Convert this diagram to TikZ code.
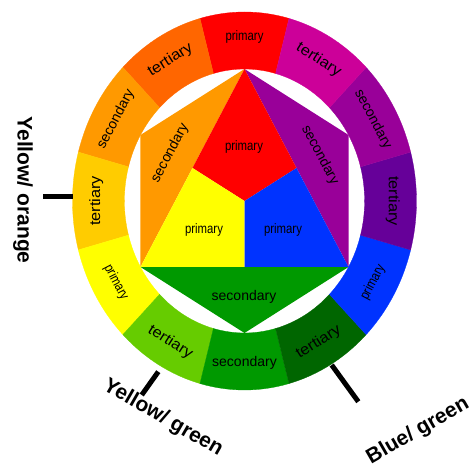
\documentclass[tikz,border=0pt]{standalone}
\usepackage{fontspec}
\usepackage{graphicx}
\setmainfont{Liberation Sans}
\definecolor{pRed}{HTML}{FF0000}
\definecolor{tRO}{HTML}{FF6600}
\definecolor{sOr}{HTML}{FF9900}
\definecolor{tYO}{HTML}{FFCC00}
\definecolor{pYe}{HTML}{FFFF00}
\definecolor{tYG}{HTML}{66CC00}
\definecolor{sGr}{HTML}{009900}
\definecolor{tBG}{HTML}{006600}
\definecolor{pBl}{HTML}{0033FF}
\definecolor{tBV}{HTML}{660099}
\definecolor{sVi}{HTML}{990099}
\definecolor{tRV}{HTML}{CC0099}
\newcommand\txtP{\scalebox{0.83}[1]{primary}}
\newcommand\txtS{\scalebox{1.0}[1]{secondary}}
\newcommand\txtT{\scalebox{1.09}[1]{tertiary}}
\newcommand\ringseg[3]{\fill[#3,draw=#3,line width=0.3pt] (#1:189) arc[start angle=#1, end angle=#2, radius=189] -- (#2:132) arc[start angle=#2, end angle=#1, radius=132] -- cycle;}
\begin{document}
\begin{tikzpicture}[x=1pt,y=1pt,
  lab/.style={inner sep=0pt, text=black},
  lp/.style={lab, font=\fontsize{13.7}{13.7}\selectfont},
  ls/.style={lab, font=\fontsize{14}{14}\selectfont},
  lt/.style={lab, font=\fontsize{15}{15}\selectfont},
  big/.style={inner sep=0pt, font=\fontsize{21}{21}\selectfont\bfseries},
  tickline/.style={line width=5pt}]
\useasboundingbox (0,0) rectangle (475,469);
\begin{scope}[shift={(244.5,268)}, xscale=0.91]
  % inner figure
  \fill[sOr] (90:132) -- (150:132) -- (210:132) -- cycle;
  \fill[sVi] (90:132) -- (30:132) -- (330:132) -- cycle;
  \fill[sGr] (210:132) -- (330:132) -- (270:132) -- cycle;
  \fill[pRed] (90:132) -- (150:66) -- (0,0) -- (30:66) -- cycle;
  \fill[pYe] (150:66) -- (210:132) -- (270:66) -- (0,0) -- cycle;
  \fill[pBl] (0,0) -- (30:66) -- (330:132) -- (270:66) -- cycle;
  % ring
  \ringseg{75}{105}{pRed}
  \ringseg{105}{135}{tRO}
  \ringseg{135}{165}{sOr}
  \ringseg{165}{195}{tYO}
  \ringseg{195}{225}{pYe}
  \ringseg{225}{255}{tYG}
  \ringseg{255}{285}{sGr}
  \ringseg{285}{315}{tBG}
  \ringseg{315}{345}{pBl}
  \ringseg{345}{375}{tBV}
  \ringseg{15}{45}{sVi}
  \ringseg{45}{75}{tRV}
  % ring labels
  \node[lp, rotate=0] (r1) at (90:164) {\txtP};
  \node[lt, rotate=32.4] (r2) at (120:163) {\txtT};
  \node[ls, rotate=62.3] (r3) at (150:163) {\txtS};
  \node[lt, rotate=90] (r4) at (180:163) {\txtT};
  \node[lp, rotate=-62.3] (r5) at (210:163) {\txtP};
  \node[lt, rotate=-32.4] (r6) at (240:163) {\txtT};
  \node[ls, rotate=0] (r7) at (270:162) {\txtS};
  \node[lt, rotate=32.4] (r8) at (300:163) {\txtT};
  \node[lp, rotate=62.3] (r9) at (330:163) {\txtP};
  \node[lt, rotate=-90] (r10) at (0:163) {\txtT};
  \node[ls, rotate=-62.3] (r11) at (30:163) {\txtS};
  \node[lt, rotate=-32.4] (r12) at (60:163) {\txtT};
\end{scope}
% inner labels
\node[lp] (i1) at (244,322) {\txtP};
\node[lp] (i2) at (204,239) {\txtP};
\node[lp] (i3) at (283,239) {\txtP};
\node[ls, rotate=62] (i4) at (170,316) {\txtS};
\node[ls, rotate=-62] (i5) at (320,314) {\txtS};
\node[ls] (i6) at (244,172) {\txtS};
% outside labels
\node[big, rotate=-90] (yo) at (23,279) {Yellow/ orange};
\node[big, rotate=-30] (yg) at (163,51) {Yellow/ green};
\node[big, rotate=30] (bg) at (418,38) {Blue/ green};
% ticks
\coordinate (t1a) at (43,272);
\coordinate (t1b) at (72.5,272);
\coordinate (t2a) at (158.3,97.3);
\coordinate (t2b) at (141.7,74);
\coordinate (t3a) at (331.7,104);
\coordinate (t3b) at (358.3,67.3);
\draw[tickline] (t1a) -- (t1b);
\draw[tickline] (t2a) -- (t2b);
\draw[tickline] (t3a) -- (t3b);
\end{tikzpicture}
\end{document}
